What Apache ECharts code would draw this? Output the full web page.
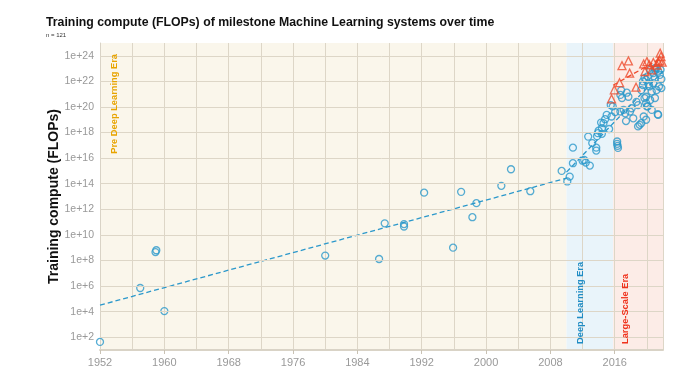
<!DOCTYPE html>
<html>
<head>
<meta charset="utf-8">
<script src="https://cdn.jsdelivr.net/npm/echarts@6/dist/echarts.min.js"></script>
<style>
html,body{margin:0;padding:0;background:#fff;}
#chart{width:700px;height:373px;}
</style>
</head>
<body>
<div id="chart"></div>
<script>
// ---- Data (year, training compute in FLOPs) ----
const preDeepLearning = [
  [1952.0, 4.3e1], [1957.0, 7e5], [1958.9, 4.5e8], [1959.0, 6.3e8], [1960.0, 1.1e4],
  [1980.0, 2.4e8], [1986.7, 1.3e8], [1987.4, 8e10], [1989.8, 7e10], [1989.8, 4.5e10],
  [1992.3, 2e13], [1995.9, 1e9], [1996.9, 2.3e13], [1998.3, 2.4e11], [1998.8, 3e12],
  [2001.9, 6.8e13], [2003.1, 1.35e15], [2005.5, 2.6e13], [2009.4, 1e15]
];
const deepLearning = [
  [2010.1, 1.5e14], [2010.4, 3.6e14], [2010.8, 6.6e16], [2010.8, 4e15], [2012.0, 6.3e15],
  [2012.2, 7.2e15], [2012.4, 4.5e15], [2012.9, 2.6e15], [2012.7, 4.8e17], [2013.2, 1.5e17],
  [2013.7, 3.9e16], [2013.7, 6.6e16], [2013.8, 5.2e17], [2013.9, 8.9e17], [2014.0, 1.4e18],
  [2014.4, 7.9e17], [2014.4, 2.2e18], [2014.3, 6e18], [2014.6, 5.4e18], [2014.8, 1.1e19],
  [2015.0, 2.4e19], [2015.3, 1.9e18], [2015.6, 1.8e19], [2015.5, 1.4e20], [2015.75, 1.1e20]
];
const largeScaleCircles = [
  [2016.05, 4e19], [2016.3, 2e17], [2016.3, 1.3e17], [2016.35, 9e16], [2016.4, 6.3e16],
  [2016.7, 4.4e19], [2016.7, 8.7e20], [2016.9, 5e20], [2016.8, 2e21], [2017.1, 6e19],
  [2017.3, 3.2e19], [2017.4, 7.9e18], [2017.5, 1.3e21], [2017.7, 6.3e20], [2017.9, 4.4e19],
  [2018.1, 7.9e19], [2018.3, 1.3e19], [2018.7, 2.5e20], [2018.9, 1.4e20], [2018.9, 3e18],
  [2019.1, 4e18], [2019.3, 5.4e18], [2019.3, 2.1e21], [2019.5, 5.2e21], [2019.7, 4.9e20],
  [2019.9, 2e20], [2020.1, 1.1e20], [2021.35, 2.7e19], [2019.5, 1e22], [2019.7, 1.8e22],
  [2019.9, 1.3e22], [2020.1, 2.5e22], [2020.3, 4e21], [2020.6, 1.6e21], [2020.8, 4.4e22],
  [2021.0, 8e22], [2021.2, 1.1e23], [2021.4, 5.9e22], [2021.0, 1.8e22], [2020.8, 7.2e21],
  [2021.2, 2.1e21], [2019.9, 6.3e20], [2020.4, 3.5e20], [2021.0, 5e20], [2020.0, 1.1e20],
  [2020.6, 5.9e19], [2019.6, 1.8e19], [2019.9, 1e19], [2021.4, 2.4e19], [2021.6, 3.2e22],
  [2021.7, 8e22], [2021.0, 1.1e23], [2020.4, 8e22], [2021.8, 1.5e22], [2021.5, 4e21],
  [2020.2, 6e21], [2021.8, 3e21]
];
const largeScaleTriangles = [
  [2015.6, 4.3e20], [2015.95, 2.2e21], [2016.6, 7.9e21], [2016.9, 1.7e23], [2017.7, 4e23],
  [2017.85, 4.4e22], [2018.65, 3.5e21], [2019.6, 2.3e23], [2020.0, 3.5e23], [2020.3, 2e23],
  [2020.6, 7.9e22], [2020.8, 3e23], [2021.25, 1.9e23], [2021.6, 4.3e23], [2021.65, 1.6e24],
  [2021.75, 8.7e23], [2021.9, 3.2e23], [2019.75, 5.9e22], [2021.4, 3.5e23]
];
// trend line endpoints
const trendPre = [[1952, 3.2e4], [2010, 2.7e14]];
const trendDL = [[2010, 8e14], [2022, 6.3e22]];
const trendLS = [[2015.8, 5e21], [2022, 8e23]];
// era bounds
const eras = [
  { name: 'Pre Deep Learning Era', from: 1952, to: 2010, color: '#FAF6EB' },
  { name: 'Deep Learning Era', from: 2010, to: 2015.8, color: '#E9F4FA' },
  { name: 'Large-Scale Era', from: 2015.8, to: 2022, color: '#FCECE7' }
];
const xTicks = { min: 1952, max: 2022, interval: 8 };
const yTicks = { min: 1e1, max: 1e25 };
const yLabelTicks = [1e2, 1e4, 1e6, 1e8, 1e10, 1e12, 1e14, 1e16, 1e18, 1e20, 1e22, 1e24];

const FONT = 'Liberation Sans, Arial, sans-serif';
const BLUE = '#2B98CB';
const RED = '#EE4A2C';
const GRID = '#DDD6C7';

const chart = echarts.init(document.getElementById('chart'), null, { renderer: 'canvas' });

const circleStyle = { color: 'rgba(0,0,0,0)', borderColor: BLUE, borderWidth: 1.3 };
const isLabelTick = v => yLabelTicks.some(t => Math.abs(Math.log10(t) - Math.log10(v)) < 1e-6);

chart.setOption({
  animation: false,
  backgroundColor: '#fff',
  title: {
    text: 'Training compute (FLOPs) of milestone Machine Learning systems over time',
    subtext: 'n = ' + 121,
    left: 41, top: 12,
    itemGap: 3,
    textStyle: { fontFamily: FONT, fontSize: 12.3, fontWeight: 'bold', color: '#111' },
    subtextStyle: { fontFamily: FONT, fontSize: 6, color: '#333' }
  },
  grid: { left: 100, right: 37, top: 43, bottom: 23, containLabel: false },
  xAxis: {
    type: 'value', min: xTicks.min, max: xTicks.max, interval: xTicks.interval, z: 2,
    axisLine: { show: true, lineStyle: { color: '#D9D3C6', width: 2 } },
    axisTick: { show: true, length: 4, lineStyle: { color: '#C9C2B4' } },
    axisLabel: { showMaxLabel: false, margin: 7, color: '#999', fontSize: 11, fontFamily: FONT,
      formatter: v => String(v) },
    splitLine: { show: true, lineStyle: { color: GRID, width: 1 } },
    minorTick: { show: false, splitNumber: 2 },
    minorSplitLine: { show: true, lineStyle: { color: GRID, width: 1 } }
  },
  yAxis: {
    type: 'log', logBase: 10, min: yTicks.min, max: yTicks.max, interval: 1, z: 2,
    name: 'Training compute (FLOPs)', nameLocation: 'middle', nameGap: 39, nameMoveOverlap: false,
    nameTextStyle: { fontFamily: FONT, fontSize: 14, fontWeight: 'bold', color: '#111' },
    axisLine: { show: true, lineStyle: { color: '#D9D3C6', width: 1 } },
    axisTick: { show: false },
    axisLabel: { margin: 6, color: '#999', fontSize: 10.5, fontFamily: FONT,
      formatter: v => isLabelTick(v) ? '1e+' + Math.round(Math.log10(v)) : '' },
    splitLine: { show: false }
  },
  graphic: [
    { type: 'text', x: 114, y: 54, rotation: Math.PI / 2, z: 100,
      style: { text: eras[0].name, fill: '#E8A400', font: 'bold 9.3px ' + FONT, align: 'right', verticalAlign: 'middle' } },
    { type: 'text', x: 580, y: 344, rotation: Math.PI / 2, z: 100,
      style: { text: eras[1].name, fill: '#1F8CC4', font: 'bold 9.3px ' + FONT, align: 'left', verticalAlign: 'middle' } },
    { type: 'text', x: 625, y: 344, rotation: Math.PI / 2, z: 100,
      style: { text: eras[2].name, fill: '#F0321C', font: 'bold 9.3px ' + FONT, align: 'left', verticalAlign: 'middle' } }
  ],
  series: [
    {
      type: 'scatter', data: [], z: -1, silent: true,
      markArea: {
        silent: true, z: -1,
        data: eras.map(e => [{ xAxis: e.from, itemStyle: { color: e.color } }, { xAxis: e.to }])
      }
    },
    {
      type: 'scatter', data: [], z: 1, silent: true,
      markLine: {
        silent: true, symbol: 'none', label: { show: false },
        lineStyle: { color: GRID, width: 1, type: 'solid' },
        data: yLabelTicks.map(t => ({ yAxis: t }))
      }
    },
    { type: 'line', data: trendPre, showSymbol: false, symbol: 'none', z: 3,
      lineStyle: { color: BLUE, width: 1.3, type: [5, 3] } },
    { type: 'line', data: trendDL, showSymbol: false, symbol: 'none', z: 3,
      lineStyle: { color: BLUE, width: 1.3, type: [5, 3] } },
    { type: 'line', data: trendLS, showSymbol: false, symbol: 'none', z: 3,
      lineStyle: { color: RED, width: 1.3, type: [5, 3] } },
    { type: 'scatter', data: preDeepLearning, symbol: 'circle', symbolSize: 7, itemStyle: circleStyle, z: 4 },
    { type: 'scatter', data: deepLearning, symbol: 'circle', symbolSize: 7, itemStyle: circleStyle, z: 4 },
    { type: 'scatter', data: largeScaleCircles, symbol: 'circle', symbolSize: 7, itemStyle: circleStyle, z: 4 },
    { type: 'scatter', data: largeScaleTriangles, symbol: 'triangle', symbolSize: 8,
      itemStyle: { color: 'rgba(0,0,0,0)', borderColor: RED, borderWidth: 1.3 }, z: 5 }
  ]
});
</script>
</body>
</html>
